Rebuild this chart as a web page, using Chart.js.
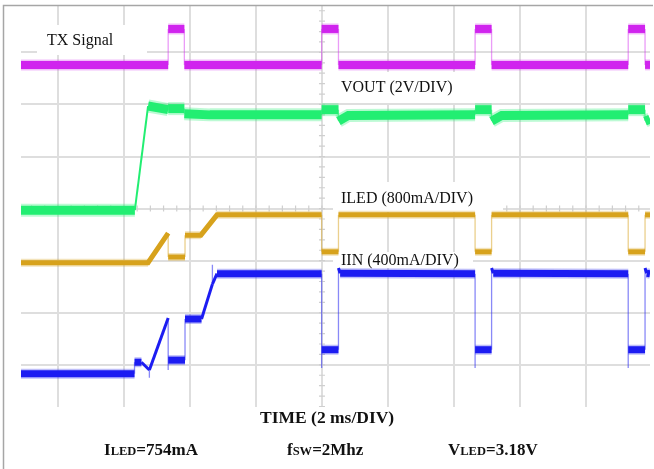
<!DOCTYPE html>
<html>
<head>
<meta charset="utf-8">
<script src="https://cdn.jsdelivr.net/npm/chart.js@4.4.1/dist/chart.umd.min.js"></script>
<style>
  body { margin: 0; background: #fff; }
  #wrap { position: relative; width: 654px; height: 469px; }
  .note { position: absolute; font-family: "Liberation Serif", serif; font-weight: bold; color: #111; white-space: nowrap; line-height: 20px; }
  .sc { font-size: 12.5px; }
</style>
</head>
<body>
<div id="wrap">
  <canvas id="scope"></canvas>
  <div class="note" style="left:260px; top:407px; font-size:17.5px;">TIME (2 ms/DIV)</div>
  <div class="note" style="left:104px; top:440px; font-size:17px;">I<span class="sc">LED</span>=754mA</div>
  <div class="note" style="left:287px; top:440px; font-size:17px;">f<span class="sc">SW</span>=2Mhz</div>
  <div class="note" style="left:448px; top:440px; font-size:17px;">V<span class="sc">LED</span>=3.18V</div>
</div>
<script>
// time in ms (2 ms per division), levels in screen divisions from the bottom graticule line
const timeGrid = [2, 4, 6, 8, 10, 12, 14, 16, 18];
const divGrid = [1, 2, 3, 4, 5, 6, 7];

const txTime  = [0.88, 5.34, 5.34, 5.83, 5.83, 9.99, 9.99, 10.5, 10.5, 14.64, 14.64, 15.14, 15.14, 19.28, 19.28, 19.79, 19.79, 19.94];
const txLevel = [6.76, 6.76, 7.45, 7.45, 6.76, 6.76, 7.45, 7.45, 6.76, 6.76, 7.45, 7.45, 6.76, 6.76, 7.45, 7.45, 6.76, 6.76];

const voutTime  = [0.88, 4.33, 4.73, 5.34, 5.34, 5.83, 5.83, 6.6, 9.99, 9.99, 10.5, 10.5, 10.8, 14.64, 14.64, 15.14, 15.14, 15.45, 19.28, 19.28, 19.79, 19.79, 19.94];
const voutLevel = [3.97, 3.97, 5.97, 5.90, 5.92, 5.92, 5.82, 5.80, 5.80, 5.90, 5.90, 5.68, 5.79, 5.80, 5.90, 5.90, 5.68, 5.79, 5.80, 5.90, 5.90, 5.68, 5.72];

const ledTime  = [0.88, 4.73, 5.34, 5.34, 5.85, 5.85, 6.33, 6.82, 9.99, 9.99, 10.5, 10.5, 14.64, 14.64, 15.14, 15.14, 19.28, 19.28, 19.79, 19.79, 19.94];
const ledLevel = [2.96, 2.96, 3.53, 3.07, 3.07, 3.49, 3.49, 3.88, 3.88, 3.17, 3.17, 3.88, 3.88, 3.17, 3.17, 3.88, 3.88, 3.17, 3.17, 3.88, 3.88];

const inTime  = [0.88, 4.32, 4.32, 4.53, 4.77, 4.77, 4.77, 5.34, 5.34, 5.34, 5.85, 5.85, 6.35, 6.68, 6.68, 6.68, 6.82,
                 9.99, 9.99, 9.99, 10.5, 10.5, 10.55, 14.64, 14.64, 14.64, 15.14, 15.14, 15.19, 19.28, 19.28, 19.28, 19.79, 19.79, 19.84, 19.94];
const inLevel = [0.83, 0.83, 1.05, 1.05, 0.90, 0.75, 0.90, 1.90, 0.90, 1.09, 1.09, 1.88, 1.88, 2.55, 2.92, 2.55, 2.75,
                 2.75, 0.94, 1.29, 1.29, 2.86, 2.76, 2.75, 0.94, 1.29, 1.29, 2.86, 2.76, 2.75, 0.94, 1.29, 1.29, 2.86, 2.76, 2.75];

function pairs(xs, ys) {
  return xs.map((x, i) => ({ x: x, y: ys[i] }));
}

function kind(c) {
  const dx = Math.abs(c.p1.x - c.p0.x), dy = Math.abs(c.p1.y - c.p0.y);
  if (dx < 0.5) return 'edge';
  return dy / dx < 0.9 ? 'flat' : 'slope';
}

function trace(label, xs, ys, color, edge, flatW, slopeW) {
  return {
    label: label,
    data: pairs(xs, ys),
    borderColor: color,
    borderWidth: flatW,
    pointRadius: 0,
    tension: 0,
    borderCapStyle: 'butt',
    borderJoinStyle: 'miter',
    segment: {
      borderWidth: c => ({ edge: 1.3, flat: flatW, slope: slopeW })[kind(c)],
      borderColor: c => kind(c) === 'edge' ? edge : color
    }
  };
}

// faint wider band round the flat parts, like the scope noise
function halo(label, xs, ys, color, flatW) {
  return {
    label: label + ' noise',
    data: pairs(xs, ys),
    borderColor: color,
    borderWidth: flatW,
    pointRadius: 0,
    tension: 0,
    borderCapStyle: 'butt',
    segment: {
      borderColor: c => kind(c) === 'flat' ? color : 'rgba(0,0,0,0)'
    }
  };
}

const labels = [
  { text: 'TX Signal', x: 47, y: 41, box: [37, 25, 110, 30] },
  { text: 'VOUT (2V/DIV)', x: 341, y: 88, box: [333, 72, 130, 31] },
  { text: 'ILED (800mA/DIV)', x: 341, y: 199, box: [333, 182, 170, 30] },
  { text: 'IIN (400mA/DIV)', x: 341, y: 261, box: [333, 252, 140, 16] }
];

const scopeDecor = {
  id: 'scopeDecor',
  beforeDatasetsDraw(chart) {
    const { ctx, chartArea, scales } = chart;
    const x = scales.x, y = scales.y;
    ctx.save();
    // frame
    ctx.strokeStyle = '#a6a6a6';
    ctx.lineWidth = 1.5;
    ctx.beginPath();
    ctx.moveTo(3.5, chart.height);
    ctx.lineTo(3.5, 5.5);
    ctx.lineTo(653, 5.5);
    ctx.stroke();
    // minor ticks on the centre lines
    ctx.strokeStyle = '#cfcfcf';
    ctx.lineWidth = 1.2;
    const cx = x.getPixelForValue(10), cy = y.getPixelForValue(4);
    ctx.beginPath();
    for (let v = 0.2; v < 8; v += 0.2) {
      const py = y.getPixelForValue(v);
      if (py < chartArea.top || py > chartArea.bottom) continue;
      ctx.moveTo(cx - 3, py); ctx.lineTo(cx + 3, py);
    }
    for (let t = 0.4; t < 20; t += 0.4) {
      const px = x.getPixelForValue(t);
      if (px < chartArea.left || px > chartArea.right) continue;
      ctx.moveTo(px, cy - 3); ctx.lineTo(px, cy + 3);
    }
    ctx.stroke();
    // channel labels on white patches
    ctx.font = '16px "Liberation Serif", serif';
    ctx.textBaseline = 'middle';
    labels.forEach(l => {
      ctx.fillStyle = '#fff';
      ctx.fillRect(l.box[0], l.box[1], l.box[2], l.box[3]);
      ctx.fillStyle = '#111';
      ctx.fillText(l.text, l.x, l.y);
    });
    ctx.restore();
  }
};

new Chart(document.getElementById('scope'), {
  type: 'line',
  data: {
    datasets: [
      trace('IIN', inTime, inLevel, '#1c1cf2', 'rgba(40,40,240,0.55)', 7, 3),
      trace('ILED', ledTime, ledLevel, '#d7a21c', 'rgba(215,162,28,0.5)', 5, 5),
      trace('VOUT', voutTime, voutLevel, '#22ee72', 'rgba(34,238,114,0.6)', 9, 2),
      trace('TX', txTime, txLevel, '#d024ee', 'rgba(208,36,238,0.45)', 8, 2),
      halo('IIN', inTime, inLevel, 'rgba(40,40,240,0.3)', 10),
      halo('ILED', ledTime, ledLevel, 'rgba(215,162,28,0.3)', 8),
      halo('VOUT', voutTime, voutLevel, 'rgba(34,238,114,0.3)', 13),
      halo('TX', txTime, txLevel, 'rgba(208,36,238,0.3)', 11)
    ]
  },
  options: {
    responsive: true,
    maintainAspectRatio: false,
    animation: false,
    events: [],
    layout: { padding: { left: 21, top: 5, right: 4, bottom: 62 } },
    plugins: { legend: { display: false }, tooltip: { enabled: false } },
    scales: {
      x: {
        type: 'linear', min: 0.88, max: 19.94,
        afterBuildTicks: s => { s.ticks = timeGrid.map(v => ({ value: v })); },
        ticks: { display: false },
        grid: { color: '#dedede', lineWidth: 2, drawTicks: false },
        border: { display: false }
      },
      y: {
        type: 'linear', min: 0.19, max: 7.91,
        afterBuildTicks: s => { s.ticks = divGrid.map(v => ({ value: v })); },
        ticks: { display: false },
        grid: { color: '#dedede', lineWidth: 2, drawTicks: false },
        border: { display: false }
      }
    }
  },
  plugins: [scopeDecor]
});
</script>
</body>
</html>
